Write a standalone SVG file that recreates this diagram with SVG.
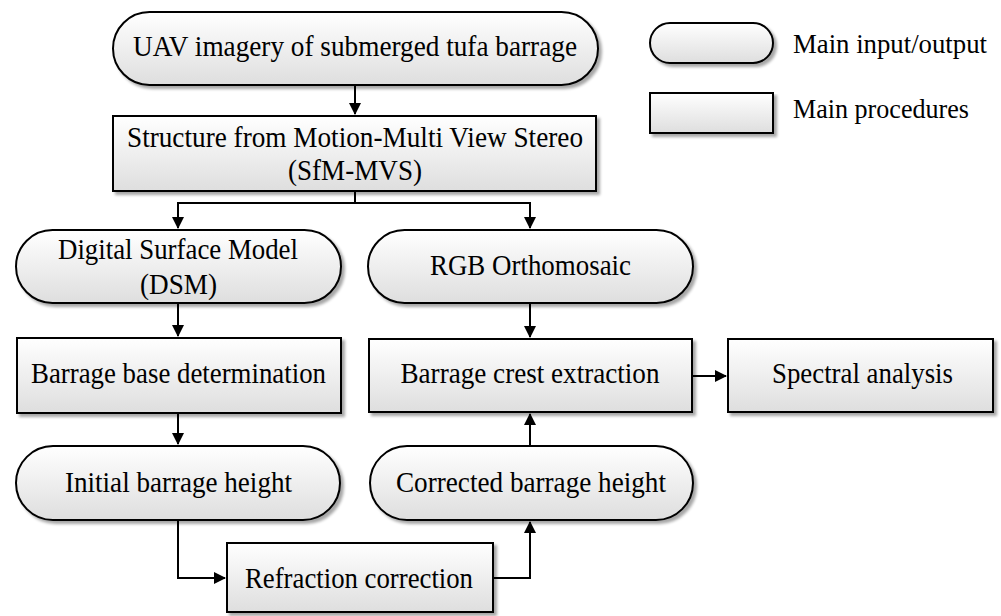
<svg xmlns="http://www.w3.org/2000/svg" width="1001" height="616" viewBox="0 0 1001 616">
<defs>
<linearGradient id="g" x1="0" y1="0" x2="0" y2="1">
<stop offset="0" stop-color="#ffffff"/>
<stop offset="1" stop-color="#dedede"/>
</linearGradient>
<filter id="sh" x="-5%" y="-5%" width="115%" height="130%">
<feGaussianBlur in="SourceAlpha" stdDeviation="1.5"/>
<feOffset dx="3" dy="3" result="b"/>
<feComponentTransfer><feFuncA type="linear" slope="0.35"/></feComponentTransfer>
<feMerge><feMergeNode/><feMergeNode in="SourceGraphic"/></feMerge>
</filter>
<marker id="ah" markerWidth="12" markerHeight="12" refX="11" refY="6" orient="auto" markerUnits="userSpaceOnUse">
<path d="M0,0 L12,6 L0,12 Z" fill="#000"/>
</marker>
</defs>
<style>
.n{fill:url(#g);stroke:#000;stroke-width:2;filter:url(#sh)}
.t{font-family:"Liberation Serif","Times New Roman",serif;font-size:29px;fill:#000;text-anchor:middle}
.l{font-family:"Liberation Serif","Times New Roman",serif;font-size:27px;fill:#000}
.c{fill:none;stroke:#000;stroke-width:2}
</style>
<rect width="1001" height="616" fill="#fff"/>
<g id="connectors">
<path class="c" d="M355,86 V114" marker-end="url(#ah)"/>
<path class="c" d="M355,192 V203 H178 V228" marker-end="url(#ah)"/>
<path class="c" d="M355,203 H530 V228" marker-end="url(#ah)"/>
<path class="c" d="M178,304 V336" marker-end="url(#ah)"/>
<path class="c" d="M530,304 V337" marker-end="url(#ah)"/>
<path class="c" d="M178,414 V444" marker-end="url(#ah)"/>
<path class="c" d="M693,376 H726" marker-end="url(#ah)"/>
<path class="c" d="M178,521 V578 H225" marker-end="url(#ah)"/>
<path class="c" d="M494,578 H530 V522" marker-end="url(#ah)"/>
<path class="c" d="M530,446 V414" marker-end="url(#ah)"/>
</g>
<g id="n-uav">
<rect class="n" x="113" y="12" width="485" height="73" rx="36.5"/>
<text class="t" x="355" y="56" textLength="444" lengthAdjust="spacingAndGlyphs">UAV imagery of submerged tufa barrage</text>
</g>
<g id="n-sfm">
<rect class="n" x="113" y="116" width="483" height="75"/>
<text class="t" x="355" y="147" textLength="456" lengthAdjust="spacingAndGlyphs">Structure from Motion-Multi View Stereo</text>
<text class="t" x="355" y="180" textLength="134" lengthAdjust="spacingAndGlyphs">(SfM-MVS)</text>
</g>
<g id="n-dsm">
<rect class="n" x="16" y="230" width="325" height="73" rx="36.5"/>
<text class="t" x="178" y="259" textLength="240" lengthAdjust="spacingAndGlyphs">Digital Surface Model</text>
<text class="t" x="178.5" y="294" textLength="77" lengthAdjust="spacingAndGlyphs">(DSM)</text>
</g>
<g id="n-rgb">
<rect class="n" x="368" y="230" width="325" height="73" rx="36.5"/>
<text class="t" x="530.5" y="275" textLength="201" lengthAdjust="spacingAndGlyphs">RGB Orthomosaic</text>
</g>
<g id="n-base">
<rect class="n" x="17" y="338" width="324" height="75"/>
<text class="t" x="178.5" y="383" textLength="295" lengthAdjust="spacingAndGlyphs">Barrage base determination</text>
</g>
<g id="n-crest">
<rect class="n" x="369" y="339" width="323" height="73"/>
<text class="t" x="530" y="383" textLength="259" lengthAdjust="spacingAndGlyphs">Barrage crest extraction</text>
</g>
<g id="n-spectral">
<rect class="n" x="728" y="339" width="265" height="73"/>
<text class="t" x="862.5" y="383" textLength="181" lengthAdjust="spacingAndGlyphs">Spectral analysis</text>
</g>
<g id="n-initial">
<rect class="n" x="16" y="446" width="324" height="74" rx="37"/>
<text class="t" x="178.5" y="492" textLength="227" lengthAdjust="spacingAndGlyphs">Initial barrage height</text>
</g>
<g id="n-corrected">
<rect class="n" x="370" y="446" width="323" height="74" rx="37"/>
<text class="t" x="531" y="492" textLength="270" lengthAdjust="spacingAndGlyphs">Corrected barrage height</text>
</g>
<g id="n-refraction">
<rect class="n" x="227" y="543" width="266" height="69"/>
<text class="t" x="359" y="588" textLength="228" lengthAdjust="spacingAndGlyphs">Refraction correction</text>
</g>
<g id="legend">
<rect class="n" x="650" y="23" width="123" height="40" rx="20"/>
<text class="l" x="793" y="53" textLength="194" lengthAdjust="spacingAndGlyphs">Main input/output</text>
<rect class="n" x="650" y="93" width="123" height="40"/>
<text class="l" x="793" y="118" textLength="176" lengthAdjust="spacingAndGlyphs">Main procedures</text>
</g>
</svg>
